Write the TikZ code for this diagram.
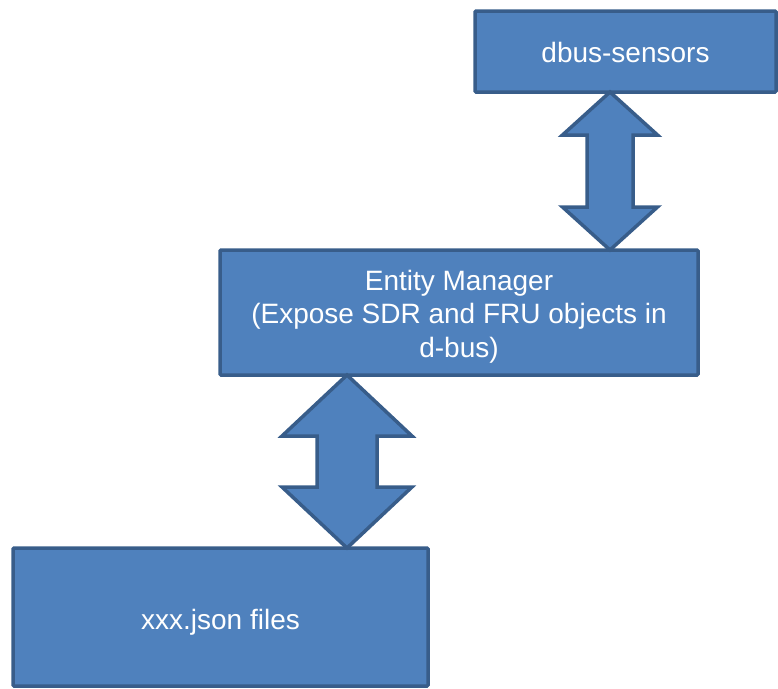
\documentclass[tikz,border=0pt]{standalone}
\usepackage{fontspec}
\setmainfont{Liberation Sans}
\usetikzlibrary{calc}
\definecolor{boxfill}{HTML}{4F81BD}
\definecolor{boxline}{HTML}{385D8A}
% vertical double-headed block arrow between two points
% #1 upper tip, #2 lower tip, #3 head half-width, #4 shaft half-width, #5 head length
\newcommand{\bidiarrow}[5]{%
  \draw[arrowshape] (#1) -- ++(#3,#5) -- ++({-(#3)+(#4)},0)
    -- ($(#2)+(#4,-#5)$) -- ++({(#3)-(#4)},0) -- (#2)
    -- ++(-#3,-#5) -- ++({(#3)-(#4)},0)
    -- ($(#1)+(-#4,#5)$) -- ++({-(#3)+(#4)},0) -- cycle;}
% text whose first baseline sits #1 below the node centre
\newcommand{\baseat}[2]{\raisebox{-#1}[0pt][0pt]{\begin{tabular}[t]{@{}c@{}}#2\end{tabular}}}
\begin{document}
\begin{tikzpicture}[x=1pt,y=-1pt,
  block/.style={draw=boxline, fill=boxfill, line width=3.5pt, rounded corners=1pt,
    text=white, font=\fontsize{28}{33.5}\selectfont, align=center,
    inner sep=0pt, outer sep=0pt},
  arrowshape/.style={draw=boxline, fill=boxfill, line width=3.5pt, line join=miter}]
  \useasboundingbox (0,0) rectangle (778,688);

  \node[block, minimum width=301pt, minimum height=81pt] (ds) at (625.5,51.5)
    {\baseat{10.5pt}{dbus-sensors}};
  \node[block, minimum width=478pt, minimum height=125pt] (em) at (459,312.5)
    {\baseat{-22.5pt}{Entity Manager\\(Expose SDR and FRU objects in\\d-bus)}};
  \node[block, minimum width=415pt, minimum height=138pt] (js) at (220.5,617)
    {\baseat{12.5pt}{xxx.json files}};

  \coordinate (xa) at (610,0);
  \coordinate (xb) at (347,0);
  \coordinate (a1) at (ds.south -| xa);
  \coordinate (a2) at (em.north -| xa);
  \coordinate (b1) at (em.south -| xb);
  \coordinate (b2) at (js.north -| xb);

  \bidiarrow{a1}{a2}{47.5}{23}{43}
  \bidiarrow{b1}{b2}{65}{30}{61}
\end{tikzpicture}
\end{document}
